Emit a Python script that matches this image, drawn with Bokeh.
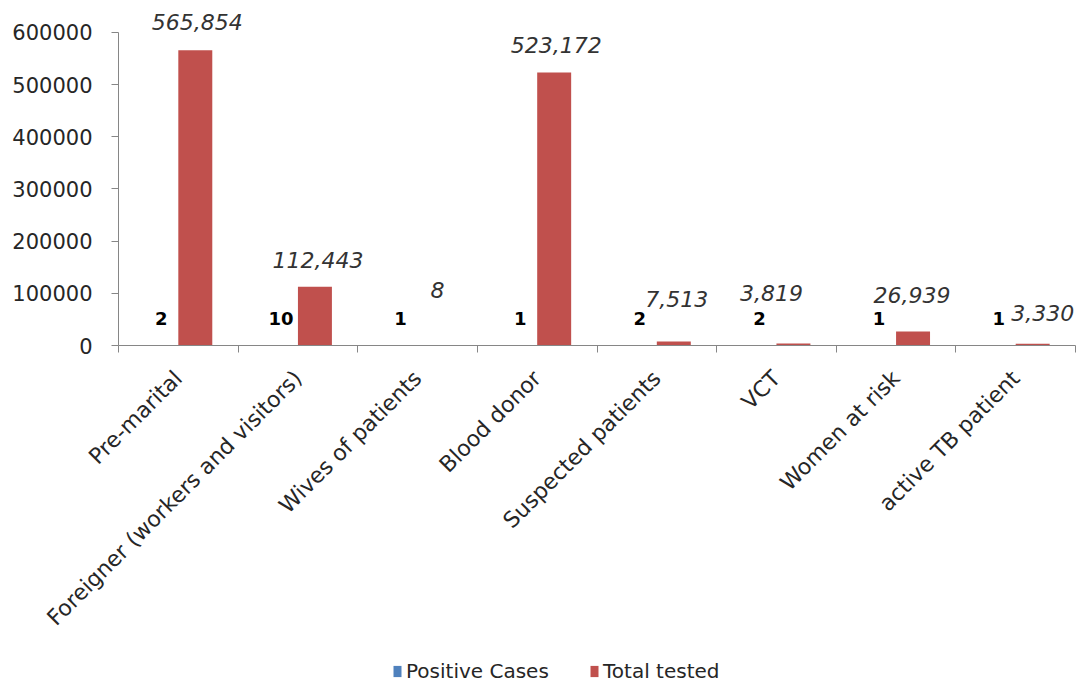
import numpy as np
from bokeh.plotting import figure
from bokeh.layouts import column
from bokeh.models import (ColumnDataSource, Range1d, FixedTicker, Legend, LegendItem,
                          BasicTickFormatter)
from bokeh.transform import dodge
from bokeh.core.properties import value
from bokeh.embed import file_html
from bokeh.resources import INLINE

categories = ["Pre-marital", "Foreigner (workers and visitors)", "Wives of patients",
              "Blood donor", "Suspected patients", "VCT", "Women at risk", "active TB patient"]
positive_cases = [2, 10, 1, 1, 2, 2, 1, 1]
total_tested = [565854, 112443, 8, 523172, 7513, 3819, 26939, 3330]
total_labels = ["565,854", "112,443", "8", "523,172", "7,513", "3,819", "26,939", "3,330"]
series_names = ["Positive Cases", "Total tested"]
y_ticks = [0, 100000, 200000, 300000, 400000, 500000, 600000]

# label nudges in screen pixels (style only)
total_dx = [2, 3, 3, 2, 3, -22, -1, 10]
total_dy = [-28, -27, -55, -27, -43, -51, -36, -31]

BLUE = "#4F81BD"
RED = "#C0504D"
AXIS = "#868686"
FONT = "DejaVu Sans"
TXT = "#262626"

n = len(categories)
xc = [i + 0.5 for i in range(n)]
src = ColumnDataSource(dict(x=xc, pos=positive_cases, tot=total_tested,
                            pos_txt=[str(v) for v in positive_cases], tot_txt=total_labels,
                            dx=total_dx, dy=total_dy))

p = figure(width=1083, height=650, output_backend="svg", toolbar_location=None,
           x_range=Range1d(0, n), y_range=Range1d(0, 661000),
           min_border_left=118, min_border_right=8, min_border_top=0, min_border_bottom=305)
p.outline_line_color = None
p.grid.visible = False
p.background_fill_color = "white"
p.border_fill_color = "white"

bw = 0.284
p.vbar(x=dodge("x", -bw / 2, range=p.x_range), top="pos", width=bw, source=src,
       fill_color=BLUE, line_color=None)
p.vbar(x=dodge("x", bw / 2, range=p.x_range), top="tot", width=bw, source=src,
       fill_color=RED, line_color=None)

p.text(x=dodge("x", -bw / 2, range=p.x_range), y="pos", text="pos_txt", source=src,
       text_font=value(FONT), text_font_size="18px", text_font_style="bold",
       text_color="black", text_align="center", text_baseline="middle", y_offset=-27)
p.text(x=dodge("x", bw / 2, range=p.x_range), y="tot", text="tot_txt", source=src,
       text_font=value(FONT), text_font_size="22px", text_font_style="italic",
       text_color="#333333", text_align="center", text_baseline="middle",
       x_offset="dx", y_offset="dy")

# y axis
ya = p.yaxis[0]
ya.ticker = FixedTicker(ticks=y_ticks)
ya.formatter = BasicTickFormatter(use_scientific=False)
ya.bounds = (0, 600000)
ya.axis_line_color = AXIS
ya.major_tick_line_color = AXIS
ya.major_tick_in = 0
ya.major_tick_out = 7
ya.minor_tick_line_color = None
ya.major_label_text_font = FONT
ya.major_label_text_font_size = "21px"
ya.major_label_text_color = TXT
ya.major_label_standoff = 19

# x axis
xa = p.xaxis[0]
xa.ticker = FixedTicker(ticks=xc, minor_ticks=list(range(n + 1)))
xa.major_label_overrides = {x: c for x, c in zip(xc, categories)}
xa.major_label_orientation = np.pi / 4
xa.axis_line_color = AXIS
xa.major_tick_line_color = None
xa.minor_tick_line_color = AXIS
xa.minor_tick_in = 0
xa.minor_tick_out = 7
xa.major_label_text_font = FONT
xa.major_label_text_font_size = "22px"
xa.major_label_text_color = TXT
xa.major_label_standoff = 22

# legend strip below the chart (its bars are flattened to nothing by the huge y range)
lg = figure(width=1083, height=34, output_backend="svg", toolbar_location=None,
            x_axis_type=None, y_axis_type=None, x_range=Range1d(0, n),
            y_range=Range1d(0, 1e12), min_border=0)
lg.outline_line_color = None
lg.grid.visible = False
l_pos = lg.vbar(x="x", top="pos", width=bw, source=src, fill_color=BLUE, line_color=None)
l_tot = lg.vbar(x="x", top="tot", width=bw, source=src, fill_color=RED, line_color=None)
legend = Legend(items=[LegendItem(label=series_names[0], renderers=[l_pos]),
                       LegendItem(label=series_names[1], renderers=[l_tot])],
                orientation="horizontal", location=(274, 1),
                padding=0, margin=0, spacing=0, label_standoff=4, label_width=183,
                glyph_width=10, glyph_height=14,
                label_text_font=FONT, label_text_font_size="20px",
                label_text_color=TXT,
                border_line_color=None, background_fill_alpha=0)
lg.add_layout(legend, "center")

layout = column(p, lg, spacing=0)
open("out.html", "w").write(file_html(layout, INLINE))
